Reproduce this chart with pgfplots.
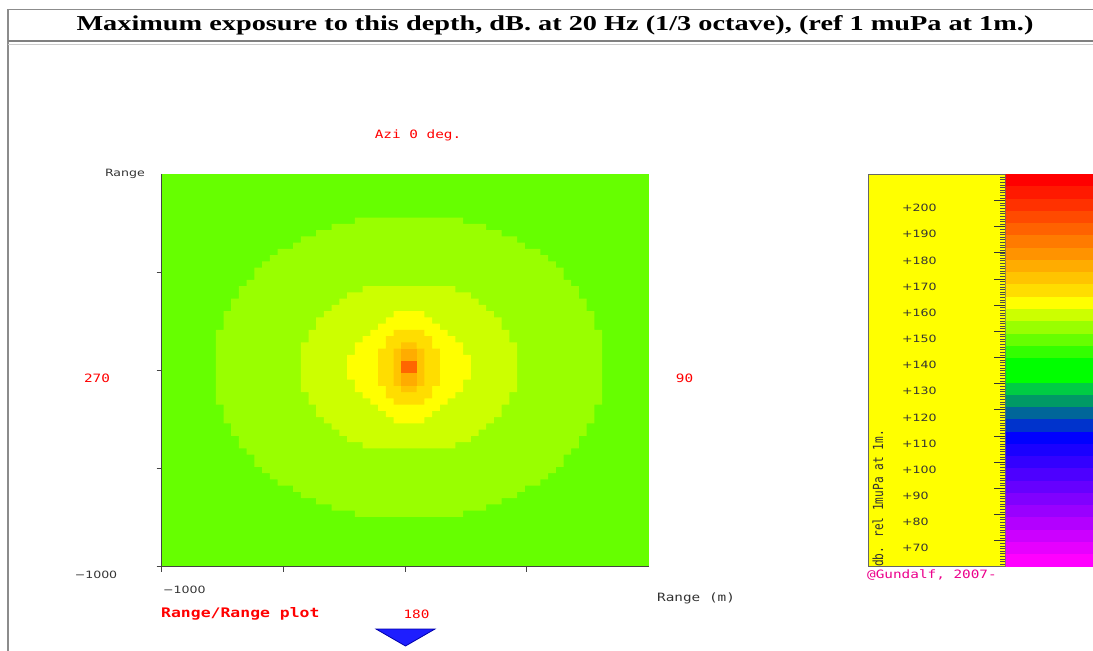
\documentclass[border=0pt]{standalone}
\usepackage{fontspec}
\usepackage{graphicx}
\usepackage{pgfplots}
\pgfplotsset{compat=1.18}
\setmainfont{DejaVu Sans}
\newfontfamily\monof{DejaVu Sans Mono}
\newfontfamily\titlef{Liberation Serif}
\newcommand{\sq}[1]{\scalebox{1}[0.8]{#1}}
\newcommand{\monofs}{\monof\fontsize{14.4}{16}\selectfont}
\newcommand{\monob}{\monof\bfseries\fontsize{16.5}{18}\selectfont}
\newcommand{\sansfs}{\fontsize{12.6}{14}\selectfont}
\definecolor{g66}{HTML}{66FF00}
\definecolor{g99}{HTML}{99FF00}
\definecolor{gcc}{HTML}{CCFF00}
\definecolor{yy}{HTML}{FFFF00}
\definecolor{ydd}{HTML}{FFDD00}
\definecolor{yc4}{HTML}{FFC400}
\definecolor{oac}{HTML}{FFAC00}
\definecolor{o66}{HTML}{FF6600}
\definecolor{axisgray}{HTML}{444444}
\definecolor{txt}{HTML}{333333}
\begin{document}
\begin{tikzpicture}
\useasboundingbox (0bp,0bp) rectangle (1093bp,-651bp);
\fill[white] (0bp,0bp) rectangle (1093bp,-651bp);
\clip (0bp,0bp) rectangle (1093bp,-651bp);

% ---------------- range/range map ----------------
\begin{axis}[at={(161.7bp,-566.7bp)}, anchor=south west, scale only axis,
  width=486.8bp, height=392.7bp,
  xmin=-1000, xmax=1000, ymin=-1000, ymax=1000,
  axis background/.style={fill=g66},
  axis lines=left, axis line style={-, draw=axisgray, line width=1.2bp},
  xtick={-1000,-500,0,500}, ytick={-1000,-500,0,500},
  xticklabels={}, yticklabels={},
  tick align=outside, major tick length=5bp,
  tick style={draw=axisgray, line width=1bp}]
% 145-150 dB contour
\addplot[const plot, fill=g99, draw=none] coordinates {
(-206.3,777.8) (238.1,746.0) (333.3,714.3) (396.8,682.5) (460.3,650.8) (492.1,619.0) (555.6,587.3) (587.3,555.6) (619.0,523.8) (650.8,460.3) (682.5,428.6) (714.3,365.1) (746.0,301.6) (777.8,206.3) (809.5,-174.6)
(777.8,-269.8) (746.0,-333.3) (714.3,-396.8) (682.5,-428.6) (650.8,-492.1) (619.0,-523.8) (587.3,-555.6) (555.6,-587.3) (492.1,-619.0) (460.3,-650.8) (396.8,-682.5) (333.3,-714.3) (238.1,-746.0) (-206.3,-714.3)
(-301.6,-682.5) (-365.1,-650.8) (-428.6,-619.0) (-460.3,-587.3) (-523.8,-555.6) (-555.6,-523.8) (-587.3,-492.1) (-619.0,-428.6) (-650.8,-396.8) (-682.5,-333.3) (-714.3,-269.8) (-746.0,-174.6) (-777.8,206.3)
(-746.0,301.6) (-714.3,365.1) (-682.5,428.6) (-650.8,460.3) (-619.0,523.8) (-587.3,555.6) (-555.6,587.3) (-523.8,619.0) (-460.3,650.8) (-428.6,682.5) (-365.1,714.3) (-301.6,746.0) (-206.3,777.8)};
% 155 dB contour
\addplot[const plot, fill=gcc, draw=none] coordinates {
(-174.6,428.6) (206.3,396.8) (269.8,365.1) (301.6,333.3) (333.3,301.6) (365.1,269.8) (396.8,206.3) (428.6,142.9) (460.3,-111.1)
(428.6,-174.6) (396.8,-238.1) (365.1,-269.8) (333.3,-301.6) (301.6,-333.3) (269.8,-365.1) (206.3,-396.8) (-174.6,-365.1)
(-238.1,-333.3) (-269.8,-301.6) (-301.6,-269.8) (-333.3,-238.1) (-365.1,-174.6) (-396.8,-111.1) (-428.6,142.9)
(-396.8,206.3) (-365.1,269.8) (-333.3,301.6) (-301.6,333.3) (-269.8,365.1) (-238.1,396.8) (-174.6,428.6)};
% 160 dB contour
\addplot[const plot, fill=yy, draw=none] coordinates {
(-47.6,301.6) (79.4,269.8) (111.1,238.1) (142.9,206.3) (174.6,174.6) (206.3,142.9) (238.1,79.4) (269.8,-47.6)
(238.1,-111.1) (206.3,-142.9) (174.6,-174.6) (142.9,-206.3) (111.1,-238.1) (79.4,-269.8) (-47.6,-238.1)
(-79.4,-206.3) (-111.1,-174.6) (-142.9,-142.9) (-174.6,-111.1) (-206.3,-47.6) (-238.1,79.4)
(-206.3,142.9) (-174.6,174.6) (-142.9,206.3) (-111.1,238.1) (-79.4,269.8) (-47.6,301.6)};
% 165 dB
\addplot[const plot, fill=ydd, draw=none] coordinates {
(-47.6,206.3) (79.4,174.6) (111.1,111.1) (142.9,-79.4) (111.1,-142.9) (79.4,-174.6) (-47.6,-142.9) (-79.4,-79.4) (-111.1,111.1) (-79.4,174.6) (-47.6,206.3)};
% 170 dB
\addplot[const plot, fill=yc4, draw=none] coordinates {
(-15.9,142.9) (47.6,111.1) (79.4,-79.4) (47.6,-111.1) (-15.9,-79.4) (-47.6,111.1) (-15.9,142.9)};
% 175 dB
\addplot[fill=oac, draw=none] coordinates {(-15.9,-79.4) (47.6,-79.4) (47.6,111.1) (-15.9,111.1)} -- cycle;
% peak
\addplot[fill=o66, draw=none] coordinates {(-15.9,-15.9) (47.6,-15.9) (47.6,47.6) (-15.9,47.6)} -- cycle;
\end{axis}

% ---------------- colour scale panel ----------------
\begin{axis}[at={(868bp,-566.7bp)}, anchor=south west, scale only axis,
  width=137.5bp, height=392.4bp,
  xmin=0, xmax=1, ymin=60, ymax=210,
  axis background/.style={fill=yy},
  axis line style={draw=black!60, line width=1bp},
  xtick=\empty,
  ytick={70,80,...,200},
  yticklabels={\sq{+70},\sq{+80},\sq{+90},\sq{+100},\sq{+110},\sq{+120},\sq{+130},\sq{+140},\sq{+150},\sq{+160},\sq{+170},\sq{+180},\sq{+190},\sq{+200}},
  minor ytick={60,61,...,210},
  ytick pos=right, yticklabel pos=left,
  tick align=inside, major tick length=12bp, minor tick length=6bp,
  major tick style={draw=black!80, line width=0.8bp},
  minor tick style={draw=black!70, line width=0.5bp},
  yticklabel style={anchor=west, inner sep=0pt, xshift=34bp, yshift=-7.7bp, font=\sansfs, text=txt}]
\end{axis}

% ---------------- colour bands ----------------
\begin{axis}[at={(1005.5bp,-566.7bp)}, anchor=south west, scale only axis,
  width=92bp, height=392.4bp,
  xmin=0, xmax=1, ymin=60, ymax=210, hide axis,
  ybar stacked, bar width=1, bar shift=0pt]
\addplot[draw=none, fill=none] coordinates {(0.5,60)};
\addplot[fill={rgb,255:red,255;green,0;blue,255}, draw={rgb,255:red,255;green,0;blue,255}] coordinates {(0.5,4.6875)};
\addplot[fill={rgb,255:red,230;green,0;blue,255}, draw={rgb,255:red,230;green,0;blue,255}] coordinates {(0.5,4.6875)};
\addplot[fill={rgb,255:red,204;green,0;blue,255}, draw={rgb,255:red,204;green,0;blue,255}] coordinates {(0.5,4.6875)};
\addplot[fill={rgb,255:red,179;green,0;blue,255}, draw={rgb,255:red,179;green,0;blue,255}] coordinates {(0.5,4.6875)};
\addplot[fill={rgb,255:red,153;green,0;blue,255}, draw={rgb,255:red,153;green,0;blue,255}] coordinates {(0.5,4.6875)};
\addplot[fill={rgb,255:red,128;green,0;blue,255}, draw={rgb,255:red,128;green,0;blue,255}] coordinates {(0.5,4.6875)};
\addplot[fill={rgb,255:red,102;green,0;blue,255}, draw={rgb,255:red,102;green,0;blue,255}] coordinates {(0.5,4.6875)};
\addplot[fill={rgb,255:red,77;green,0;blue,255}, draw={rgb,255:red,77;green,0;blue,255}] coordinates {(0.5,4.6875)};
\addplot[fill={rgb,255:red,51;green,0;blue,255}, draw={rgb,255:red,51;green,0;blue,255}] coordinates {(0.5,4.6875)};
\addplot[fill={rgb,255:red,26;green,0;blue,255}, draw={rgb,255:red,26;green,0;blue,255}] coordinates {(0.5,4.6875)};
\addplot[fill={rgb,255:red,0;green,0;blue,255}, draw={rgb,255:red,0;green,0;blue,255}] coordinates {(0.5,4.6875)};
\addplot[fill={rgb,255:red,0;green,51;blue,204}, draw={rgb,255:red,0;green,51;blue,204}] coordinates {(0.5,4.6875)};
\addplot[fill={rgb,255:red,0;green,102;blue,153}, draw={rgb,255:red,0;green,102;blue,153}] coordinates {(0.5,4.6875)};
\addplot[fill={rgb,255:red,0;green,153;blue,102}, draw={rgb,255:red,0;green,153;blue,102}] coordinates {(0.5,4.6875)};
\addplot[fill={rgb,255:red,0;green,204;blue,68}, draw={rgb,255:red,0;green,204;blue,68}] coordinates {(0.5,4.6875)};
\addplot[fill={rgb,255:red,0;green,255;blue,0}, draw={rgb,255:red,0;green,255;blue,0}] coordinates {(0.5,4.6875)};
\addplot[fill={rgb,255:red,0;green,255;blue,0}, draw={rgb,255:red,0;green,255;blue,0}] coordinates {(0.5,4.6875)};
\addplot[fill={rgb,255:red,51;green,255;blue,0}, draw={rgb,255:red,51;green,255;blue,0}] coordinates {(0.5,4.6875)};
\addplot[fill={rgb,255:red,102;green,255;blue,0}, draw={rgb,255:red,102;green,255;blue,0}] coordinates {(0.5,4.6875)};
\addplot[fill={rgb,255:red,153;green,255;blue,0}, draw={rgb,255:red,153;green,255;blue,0}] coordinates {(0.5,4.6875)};
\addplot[fill={rgb,255:red,204;green,255;blue,0}, draw={rgb,255:red,204;green,255;blue,0}] coordinates {(0.5,4.6875)};
\addplot[fill={rgb,255:red,255;green,255;blue,0}, draw={rgb,255:red,255;green,255;blue,0}] coordinates {(0.5,4.6875)};
\addplot[fill={rgb,255:red,255;green,221;blue,0}, draw={rgb,255:red,255;green,221;blue,0}] coordinates {(0.5,4.6875)};
\addplot[fill={rgb,255:red,255;green,196;blue,0}, draw={rgb,255:red,255;green,196;blue,0}] coordinates {(0.5,4.6875)};
\addplot[fill={rgb,255:red,255;green,172;blue,0}, draw={rgb,255:red,255;green,172;blue,0}] coordinates {(0.5,4.6875)};
\addplot[fill={rgb,255:red,255;green,147;blue,0}, draw={rgb,255:red,255;green,147;blue,0}] coordinates {(0.5,4.6875)};
\addplot[fill={rgb,255:red,255;green,123;blue,0}, draw={rgb,255:red,255;green,123;blue,0}] coordinates {(0.5,4.6875)};
\addplot[fill={rgb,255:red,255;green,98;blue,0}, draw={rgb,255:red,255;green,98;blue,0}] coordinates {(0.5,4.6875)};
\addplot[fill={rgb,255:red,255;green,74;blue,0}, draw={rgb,255:red,255;green,74;blue,0}] coordinates {(0.5,4.6875)};
\addplot[fill={rgb,255:red,255;green,49;blue,0}, draw={rgb,255:red,255;green,49;blue,0}] coordinates {(0.5,4.6875)};
\addplot[fill={rgb,255:red,255;green,25;blue,0}, draw={rgb,255:red,255;green,25;blue,0}] coordinates {(0.5,4.6875)};
\addplot[fill={rgb,255:red,255;green,0;blue,0}, draw={rgb,255:red,255;green,0;blue,0}] coordinates {(0.5,4.6875)};
\end{axis}

% ---------------- frame, title and labels ----------------
\begin{scope}[x=1bp, y=-1bp]
\draw[black!45, line width=1.5bp] (8,651) -- (8,9.5) -- (1093,9.5);
\draw[black!50, line width=1.2bp] (8,41) -- (1093,41);
\draw[black!20, line width=1bp] (8,44) -- (1093,44);
\node[inner sep=0pt] at (555,25.5) {\titlef\bfseries\fontsize{28.4}{30}\selectfont\scalebox{1}[0.75]{Maximum exposure to this depth, dB. at 20 Hz (1/3 octave), (ref 1 muPa at 1m.)}};
\node[inner sep=0pt, text=red] at (418,135) {\monofs\sq{Azi 0 deg.}};
\node[anchor=east, inner sep=0pt, text=txt] at (145,174) {\sansfs\sq{Range}};
\node[inner sep=0pt, text=red] at (97,378) {\monofs\sq{270}};
\node[inner sep=0pt, text=red] at (684.5,378) {\monofs\sq{90}};
\node[inner sep=0pt, text=txt] at (96,575) {\sansfs\sq{−1000}};
\node[anchor=west, inner sep=0pt, text=txt] at (163,590) {\sansfs\sq{−1000}};
\node[anchor=west, inner sep=0pt, text=red] at (161,614) {\monob\sq{Range/Range plot}};
\node[inner sep=0pt, text=red] at (416.5,614) {\monofs\sq{180}};
\node[anchor=west, inner sep=0pt, text=txt] at (657,598) {\monofs\sq{Range (m)}};
\node[anchor=west, inner sep=0pt, text=magenta] at (867,575) {\monofs\sq{@Gundalf, 2007-}};
\node[inner sep=0pt, text=txt] at (878,498.5) {\scalebox{1}[0.8]{\rotatebox{90}{\monof\fontsize{14}{16}\selectfont db. rel 1muPa at 1m.}}};
\filldraw[fill={rgb,255:red,30;green,30;blue,255}, draw={rgb,255:red,0;green,0;blue,170}, line width=0.8bp] (376,629) -- (435,629) -- (405.5,646) -- cycle;
\end{scope}
\end{tikzpicture}
\end{document}
